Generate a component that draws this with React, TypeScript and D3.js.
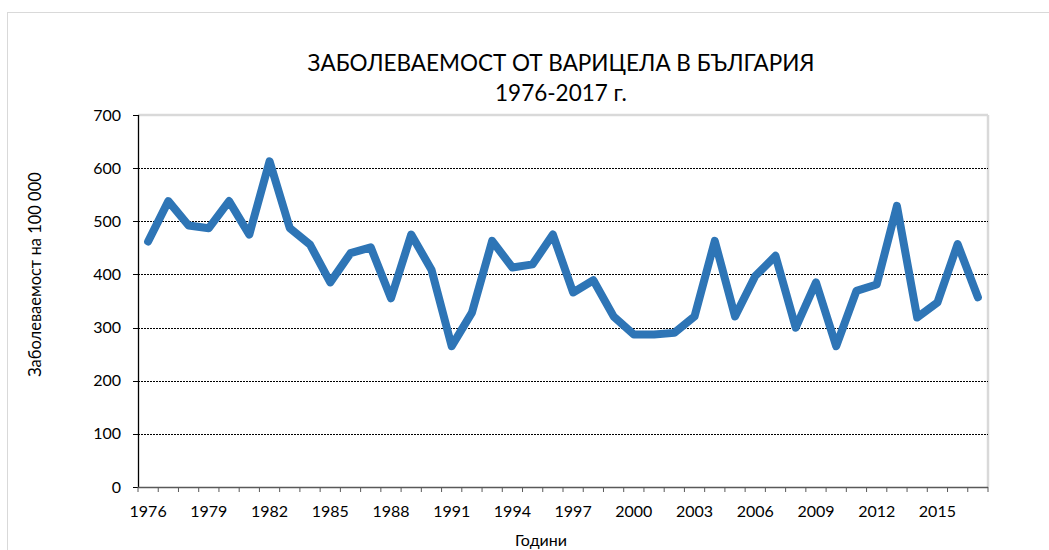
import React from "react";
import * as d3 from "d3";

const years: number[] = d3.range(1976, 2018);
const incidence: number[] = [
  462, 538, 492, 487, 538, 475, 613, 487, 456, 385,
  440, 451, 355, 475, 409, 265, 328, 463, 413, 419,
  475, 366, 389, 321, 287, 287, 290, 321, 463, 321,
  397, 435, 300, 385, 265, 369, 381, 529, 319, 347,
  457, 357,
];
const yTicks: number[] = [0, 100, 200, 300, 400, 500, 600, 700];
const xLabelYears: number[] = [1976, 1979, 1982, 1985, 1988, 1991, 1994, 1997, 2000, 2003, 2006, 2009, 2012, 2015];
const titleLines: string[] = ["ЗАБОЛЕВАЕМОСТ ОТ ВАРИЦЕЛА В БЪЛГАРИЯ", "1976-2017 г."];
const xTitle = "Години";
const yTitle = "Заболеваемост на 100 000";

const W = 1049;
const H = 550;
const plot = { left: 138, right: 988, top: 115, bottom: 487 };
const FONT = "Lato, 'Open Sans', 'Noto Sans', sans-serif";

export default function App() {
  const x = d3
    .scaleBand<number>()
    .domain(years)
    .range([plot.left, plot.right])
    .paddingInner(0)
    .paddingOuter(0);
  const y = d3.scaleLinear().domain([0, 700]).range([plot.bottom, plot.top]);
  const line = d3
    .line<number>()
    .x((_, i) => (x(years[i]) as number) + x.bandwidth() / 2)
    .y((d) => y(d));

  const tickPositions = years.map((yr) => x(yr) as number).concat([plot.right]);

  return (
    <svg
      width={W}
      height={H}
      style={{ position: "absolute", left: 0, top: 0, background: "#fff" }}
      fontFamily={FONT}
    >
      <rect x={7.5} y={12.5} width={W} height={H} fill="#fff" stroke="#d9d9d9" strokeWidth={1} />
      {titleLines.map((t, i) => (
        <text key={i} x={561} y={71 + i * 30} textAnchor="middle" fontSize={22.5} fill="#000">
          {t}
        </text>
      ))}
      {/* plot area border top/right */}
      <line x1={plot.left} x2={plot.right} y1={plot.top} y2={plot.top} stroke="#d9d9d9" strokeWidth={2.5} />
      <line x1={plot.right} x2={plot.right} y1={plot.top} y2={plot.bottom} stroke="#d9d9d9" strokeWidth={2.5} />
      {/* gridlines */}
      {yTicks
        .filter((t) => t > 0 && t < 700)
        .map((t) => (
          <line
            key={t}
            x1={plot.left}
            x2={plot.right}
            y1={Math.round(y(t)) + 0.5}
            y2={Math.round(y(t)) + 0.5}
            stroke="#000"
            strokeWidth={1}
            strokeDasharray="2,1"
          />
        ))}
      {/* y axis */}
      <line x1={plot.left + 0.5} x2={plot.left + 0.5} y1={plot.top} y2={plot.bottom} stroke="#000" strokeWidth={1.3} />
      {yTicks.map((t) => (
        <g key={t}>
          <line x1={plot.left - 5} x2={plot.left} y1={Math.round(y(t)) + 0.5} y2={Math.round(y(t)) + 0.5} stroke="#000" />
          <text x={121} y={y(t) + 5.5} textAnchor="end" fontSize={16} fill="#000">
            {t}
          </text>
        </g>
      ))}
      {/* x axis */}
      <line x1={plot.left} x2={plot.right} y1={plot.bottom + 0.5} y2={plot.bottom + 0.5} stroke="#595959" strokeWidth={1.5} />
      {tickPositions.map((p, i) => (
        <line key={i} x1={p} x2={p} y1={plot.bottom} y2={plot.bottom + 5} stroke="#595959" strokeWidth={1} />
      ))}
      {xLabelYears.map((yr) => (
        <text
          key={yr}
          x={(x(yr) as number) + x.bandwidth() / 2}
          y={517}
          textAnchor="middle"
          fontSize={16}
          fill="#000"
        >
          {yr}
        </text>
      ))}
      <text x={541} y={546} textAnchor="middle" fontSize={16} fill="#000">
        {xTitle}
      </text>
      <text
        transform={`translate(41, 274.5) rotate(-90)`}
        textAnchor="middle"
        fontSize={16.5}
        fill="#000"
      >
        {yTitle}
      </text>
      <path
        d={line(incidence) || ""}
        fill="none"
        stroke="#2e75b6"
        strokeWidth={8}
        strokeLinejoin="round"
        strokeLinecap="round"
      />
    </svg>
  );
}
